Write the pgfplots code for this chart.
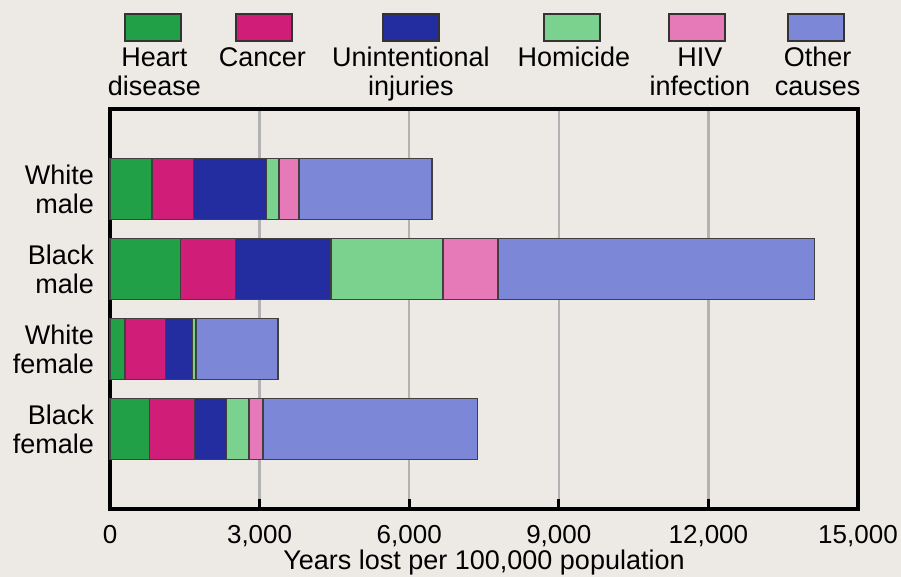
\documentclass[border=0pt]{standalone}
\usepackage{fontspec}
\setmainfont{Liberation Sans}
\usepackage{pgfplots}
\pgfplotsset{compat=1.18}
\usetikzlibrary{backgrounds}

\definecolor{paper}{RGB}{237,234,230}
\definecolor{heart}{RGB}{34,160,72}
\definecolor{cancer}{RGB}{208,30,120}
\definecolor{injury}{RGB}{35,45,160}
\definecolor{homicide}{RGB}{122,210,142}
\definecolor{hiv}{RGB}{230,122,185}
\definecolor{other}{RGB}{125,135,215}

\newcommand{\lbl}{\fontsize{13.5}{14.5}\selectfont}

\begin{document}
\begin{tikzpicture}
\begin{axis}[
    name=ax,
    scale only axis,
    width=374pt, height=200pt,
    xbar stacked,
    bar width=30.5pt,
    xmin=0, xmax=15000,
    ymin=0, ymax=5,
    xtick={0,3000,...,15000},
    ytick={1,2,3,4},
    yticklabels={Black\\female, White\\female, Black\\male, White\\male},
    yticklabel style={align=right, font=\lbl, xshift=-4.5pt},
    ytick style={draw=none},
    /pgf/number format/assume math mode=true,
    /pgf/number format/1000 sep={,},
    scaled x ticks=false,
    xticklabel style={font=\fontsize{13}{13}\selectfont, anchor=base, yshift=-17.5pt},
    xlabel={Years lost per 100,000 population},
    xlabel style={font=\lbl, at={(axis description cs:0.5,0)}, anchor=base, yshift=-30.5pt},
    xmajorgrids,
    major grid style={draw=black!30, line width=1.2pt},
    axis line style={line width=2.3pt},
    xtick pos=bottom,
    tick align=inside,
    major tick length=5pt,
    xtick style={black, line width=1.5pt},
    every axis plot/.append style={draw=black!75, line width=0.7pt},
    clip=false,
]
% order of y: 1 Black female, 2 White female, 3 Black male, 4 White male
% Heart disease
\addplot[fill=heart] coordinates {(790,1) (300,2) (1410,3) (840,4)};
% Cancer
\addplot[fill=cancer] coordinates {(900,1) (810,2) (1110,3) (830,4)};
% Unintentional injuries
\addplot[fill=injury] coordinates {(650,1) (550,2) (1910,3) (1470,4)};
% Homicide
\addplot[fill=homicide] coordinates {(450,1) (60,2) (2250,3) (250,4)};
% HIV infection
\addplot[fill=hiv] coordinates {(280,1) (20,2) (1100,3) (400,4)};
% Other causes
\addplot[fill=other] coordinates {(4300,1) (1630,2) (6350,3) (2670,4)};

% legend, drawn above the plot area
\tikzset{legbox/.style={draw=black!80, line width=1pt, minimum width=28pt, minimum height=13.5pt, inner sep=0pt}}
\node[legbox, fill=heart]    at (axis cs:862,6.02) {};
\node[legbox, fill=cancer]   at (axis cs:3084,6.02) {};
\node[legbox, fill=injury]   at (axis cs:6031,6.02) {};
\node[legbox, fill=homicide] at (axis cs:9267,6.02) {};
\node[legbox, fill=hiv]      at (axis cs:11773,6.02) {};
\node[legbox, fill=other]    at (axis cs:14150,6.02) {};
% two-line labels: base anchor sits on the last line
\node[anchor=base, align=center, font=\lbl] at (axis cs:892,5.166) {Heart\\disease};
\node[anchor=base, align=center, font=\lbl] at (axis cs:3054,5.529) {Cancer};
\node[anchor=base, align=center, font=\lbl] at (axis cs:6035,5.166) {Unintentional\\injuries};
\node[anchor=base, align=center, font=\lbl] at (axis cs:9303,5.529) {Homicide};
\node[anchor=base, align=center, font=\lbl] at (axis cs:11830,5.166) {HIV\\infection};
\node[anchor=base, align=center, font=\lbl] at (axis cs:14190,5.166) {Other\\causes};
\end{axis}
\pgfresetboundingbox
\path[use as bounding box] (ax.south west) ++(-55pt,-34pt) rectangle ++(450.5pt,288.5pt);
\begin{pgfonlayer}{background}
\fill[paper] (ax.south west) ++(-55pt,-34pt) rectangle ++(450.5pt,288.5pt);
\end{pgfonlayer}
\end{tikzpicture}
\end{document}
